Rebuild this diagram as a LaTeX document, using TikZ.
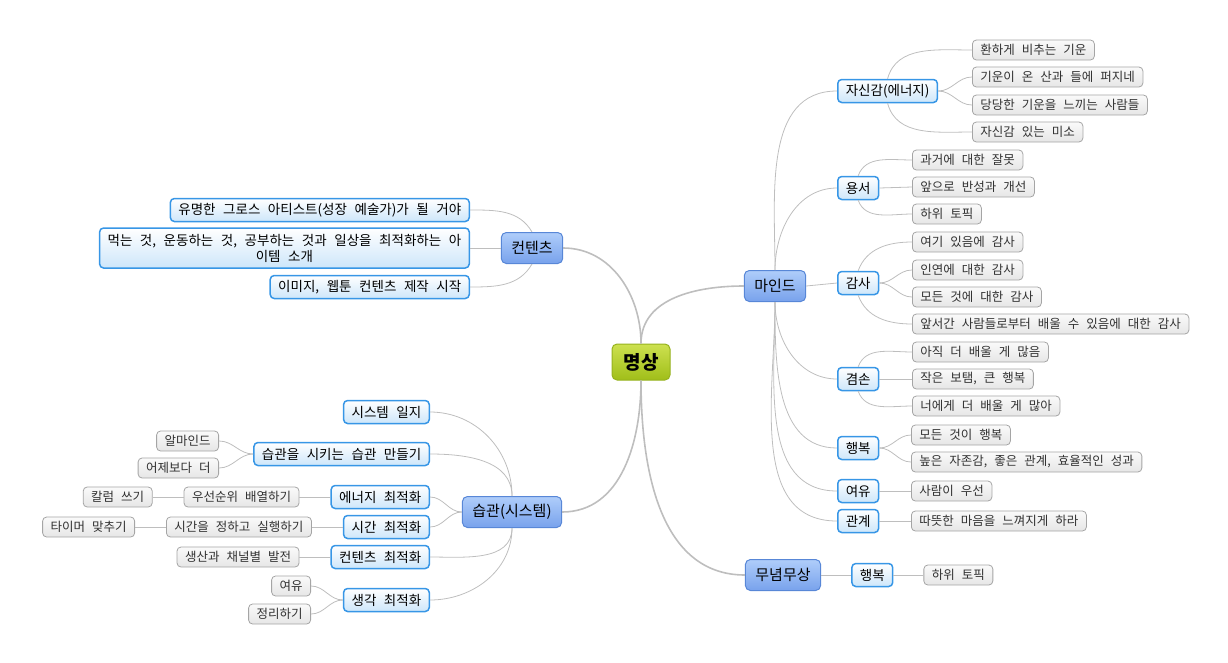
\documentclass[tikz,border=0pt]{standalone}
\usepackage{fontspec}
\setmainfont[WordSpace=2.5]{Noto Sans CJK KR}
\usepackage{tikz}
\usetikzlibrary{positioning}
\definecolor{roottop}{RGB}{205,225,80}
\definecolor{rootbot}{RGB}{160,190,25}
\definecolor{rootedge}{RGB}{150,178,30}
\definecolor{maintop}{RGB}{175,205,250}
\definecolor{mainbot}{RGB}{120,162,236}
\definecolor{mainedge}{RGB}{88,135,215}
\definecolor{subbot}{RGB}{205,230,250}
\definecolor{subedge}{RGB}{55,150,230}
\definecolor{leaftop}{RGB}{250,250,250}
\definecolor{leafbot}{RGB}{230,230,230}
\definecolor{leafedge}{RGB}{165,165,165}
\definecolor{leaftext}{RGB}{50,50,50}
\definecolor{linkgray}{RGB}{190,190,190}

\begin{document}
\begin{tikzpicture}[
  x=1pt, y=1pt,
  rootbox/.style={rectangle, rounded corners=5pt, draw=rootedge, line width=1pt, top color=roottop, bottom color=rootbot, minimum width=58pt, minimum height=36pt, font=\fontsize{19}{22}\selectfont\bfseries},
  topicbox/.style={rectangle, rounded corners=5pt, draw=mainedge, line width=1pt, top color=maintop, bottom color=mainbot, minimum height=31pt, inner xsep=10pt, font=\fontsize{15}{18}\selectfont},
  subbox/.style={rectangle, rounded corners=4pt, draw=subedge, line width=1.5pt, top color=white, bottom color=subbot, minimum height=23pt, inner xsep=8pt, font=\fontsize{13.5}{16}\selectfont},
  leafbox/.style={rectangle, rounded corners=4pt, draw=leafedge, line width=0.8pt, top color=leaftop, bottom color=leafbot, minimum height=20pt, inner xsep=8pt, text=leaftext, font=\fontsize{12.5}{14}\selectfont},
  trunk/.style={draw=linkgray, line width=1.6pt},
  twig/.style={draw=linkgray, line width=0.8pt}
]
\useasboundingbox (0,0) rectangle (1228,-662);

% centre and main topics
\node[rootbox] (root) at (641,-362) {명상};
\node[topicbox] (mind) at (775,-286) {마인드};
\node[topicbox] (content) at (532,-248) {컨텐츠};
\node[topicbox] (habit) at (512,-512) {습관(시스템)};
\node[topicbox] (calm) at (783,-575) {무념무상};

% right side
\node[subbox, anchor=west] (conf) at (837,-91) {자신감(에너지)};
\node[subbox, anchor=west] (forgive) at (837,-188) {용서};
\node[subbox, anchor=west] (thanks) at (837,-283) {감사};
\node[subbox, anchor=west] (humble) at (837,-379) {겸손};
\node[subbox, anchor=west] (happy) at (837,-448) {행복};
\node[subbox, anchor=west] (ease) at (837,-491) {여유};
\node[subbox, anchor=west] (bond) at (837,-521) {관계};
\node[subbox, right=30pt of calm] (calmhappy) {행복};

\node[leafbox, anchor=west] (conf1) at (972,-50) {환하게 비추는 기운};
\node[leafbox, anchor=west] (conf2) at (972,-77) {기운이 온 산과 들에 퍼지네};
\node[leafbox, anchor=west] (conf3) at (972,-105) {당당한 기운을 느끼는 사람들};
\node[leafbox, anchor=west] (conf4) at (972,-132) {자신감 있는 미소};
\node[leafbox, anchor=west] (forgive1) at (912,-160) {과거에 대한 잘못};
\node[leafbox, anchor=west] (forgive2) at (912,-187) {앞으로 반성과 개선};
\node[leafbox, anchor=west] (forgive3) at (912,-214) {하위 토픽};
\node[leafbox, anchor=west] (thanks1) at (912,-242) {여기 있음에 감사};
\node[leafbox, anchor=west] (thanks2) at (912,-270) {인연에 대한 감사};
\node[leafbox, anchor=west] (thanks3) at (912,-297) {모든 것에 대한 감사};
\node[leafbox, anchor=west] (thanks4) at (912,-324) {앞서간 사람들로부터 배울 수 있음에 대한 감사};
\node[leafbox, anchor=west] (humble1) at (912,-352) {아직 더 배울 게 많음};
\node[leafbox, anchor=west] (humble2) at (912,-379) {작은 보탬, 큰 행복};
\node[leafbox, anchor=west] (humble3) at (912,-406) {너에게 더 배울 게 많아};
\node[leafbox, anchor=west] (happy1) at (911,-435) {모든 것이 행복};
\node[leafbox, anchor=west] (happy2) at (911,-462) {높은 자존감, 좋은 관계, 효율적인 성과};
\node[leafbox, anchor=west] (ease1) at (911,-491) {사람이 우선};
\node[leafbox, anchor=west] (bond1) at (911,-521) {따뜻한 마음을 느껴지게 하라};
\node[leafbox, right=30pt of calmhappy] (calm1) {하위 토픽};

% left side
\node[subbox, anchor=east] (artist) at (470,-210) {유명한 그로스 아티스트(성장 예술가)가 될 거야};
\node[subbox, anchor=east, align=center, minimum height=40pt] (items) at (470,-248) {먹는 것, 운동하는 것, 공부하는 것과 일상을 최적화하는 아\\이템 소개};
\node[subbox, anchor=east] (webtoon) at (470,-287) {이미지, 웹툰 컨텐츠 제작 시작};
\node[subbox, anchor=east] (journal) at (430,-412) {시스템 일지};
\node[subbox, anchor=east] (habitmaker) at (430,-454) {습관을 시키는 습관 만들기};
\node[subbox, anchor=east] (energy) at (430,-497) {에너지 최적화};
\node[subbox, anchor=east] (timeopt) at (430,-527) {시간 최적화};
\node[subbox, anchor=east] (contopt) at (430,-557) {컨텐츠 최적화};
\node[subbox, anchor=east] (thinkopt) at (430,-600) {생각 최적화};

\node[leafbox, anchor=east] (almind) at (219,-441) {알마인드};
\node[leafbox, anchor=east] (yesterday) at (219,-468) {어제보다 더};
\node[leafbox, left=31pt of energy] (priority) {우선순위 배열하기};
\node[leafbox, left=31pt of priority] (column) {칼럼 쓰기};
\node[leafbox, left=31pt of timeopt] (schedule) {시간을 정하고 실행하기};
\node[leafbox, left=31pt of schedule] (timer) {타이머 맞추기};
\node[leafbox, left=31pt of contopt] (channel) {생산과 채널별 발전};
\node[leafbox, anchor=east] (spare) at (311,-586) {여유};
\node[leafbox, anchor=east] (tidy) at (311,-614) {정리하기};

% connectors
\draw[trunk] (root.north) to[out=90,in=180] (mind.west);
\draw[trunk] (root.north) to[out=90,in=0] (content.east);
\draw[trunk] (root.south) to[out=-90,in=0] (habit.east);
\draw[trunk] (root.south) to[out=-90,in=180] (calm.west);

\draw[twig] (mind.north) to[out=90,in=180] (conf.west);
\draw[twig] (mind.north) to[out=90,in=180] (forgive.west);
\draw[twig] (mind.east) -- (thanks.west);
\draw[twig] (mind.south) to[out=-90,in=180] (humble.west);
\draw[twig] (mind.south) to[out=-90,in=180] (happy.west);
\draw[twig] (mind.south) to[out=-90,in=180] (ease.west);
\draw[twig] (mind.south) to[out=-90,in=180] (bond.west);
\draw[twig] (calm.east) -- (calmhappy.west);
\draw[twig] (calmhappy.east) -- (calm1.west);

\draw[twig] (conf.north) to[out=75,in=180] (conf1.west);
\draw[twig] (conf.east) to[out=0,in=180] (conf2.west);
\draw[twig] (conf.east) to[out=0,in=180] (conf3.west);
\draw[twig] (conf.south) to[out=-75,in=180] (conf4.west);
\draw[twig] (forgive.north) to[out=70,in=180] (forgive1.west);
\draw[twig] (forgive.east) -- (forgive2.west);
\draw[twig] (forgive.south) to[out=-70,in=180] (forgive3.west);
\draw[twig] (thanks.north) to[out=70,in=180] (thanks1.west);
\draw[twig] (thanks.east) to[out=0,in=180] (thanks2.west);
\draw[twig] (thanks.east) to[out=0,in=180] (thanks3.west);
\draw[twig] (thanks.south) to[out=-70,in=180] (thanks4.west);
\draw[twig] (humble.north) to[out=70,in=180] (humble1.west);
\draw[twig] (humble.east) -- (humble2.west);
\draw[twig] (humble.south) to[out=-70,in=180] (humble3.west);
\draw[twig] (happy.east) to[out=0,in=180] (happy1.west);
\draw[twig] (happy.east) to[out=0,in=180] (happy2.west);
\draw[twig] (ease.east) -- (ease1.west);
\draw[twig] (bond.east) -- (bond1.west);

\draw[twig] (content.north) to[out=120,in=0] (artist.east);
\draw[twig] (content.west) -- (items.east);
\draw[twig] (content.south) to[out=-120,in=0] (webtoon.east);

\draw[twig] (habit.north) to[out=90,in=0] (journal.east);
\draw[twig] (habit.north) to[out=90,in=0] (habitmaker.east);
\draw[twig] (habit.west) to[out=180,in=0] (energy.east);
\draw[twig] (habit.west) to[out=180,in=0] (timeopt.east);
\draw[twig] (habit.south) to[out=-90,in=0] (contopt.east);
\draw[twig] (habit.south) to[out=-90,in=0] (thinkopt.east);

\draw[twig] (habitmaker.west) to[out=180,in=0] (almind.east);
\draw[twig] (habitmaker.west) to[out=180,in=0] (yesterday.east);
\draw[twig] (energy.west) -- (priority.east);
\draw[twig] (priority.west) -- (column.east);
\draw[twig] (timeopt.west) -- (schedule.east);
\draw[twig] (schedule.west) -- (timer.east);
\draw[twig] (contopt.west) -- (channel.east);
\draw[twig] (thinkopt.west) to[out=180,in=0] (spare.east);
\draw[twig] (thinkopt.west) to[out=180,in=0] (tidy.east);

\end{tikzpicture}
\end{document}
